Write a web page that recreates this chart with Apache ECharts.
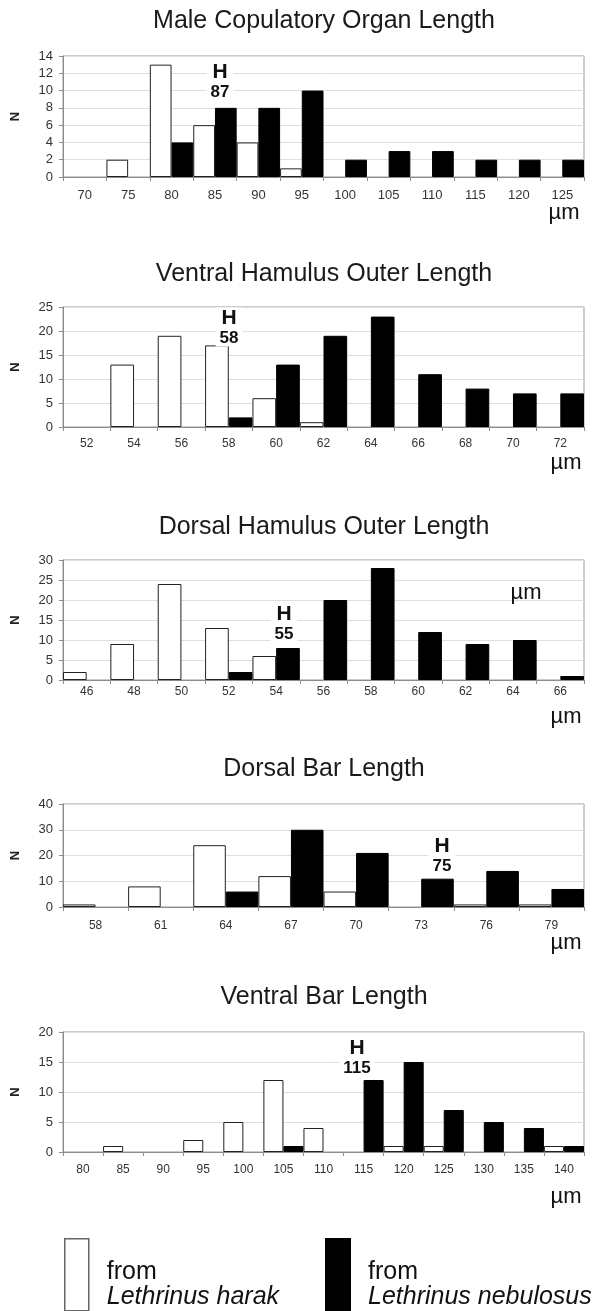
<!DOCTYPE html>
<html>
<head>
<meta charset="utf-8">
<script src="https://cdn.jsdelivr.net/npm/echarts@6/dist/echarts.min.js"></script>
<style>
html,body{margin:0;padding:0;background:#fff;}
#chart{width:596px;height:1311px;}
</style>
</head>
<body>
<div id="chart"></div>
<script>
var FONT = 'Liberation Sans, Arial, Helvetica, sans-serif';

// Male Copulatory Organ Length
var mcoCats = ['70','75','80','85','90','95','100','105','110','115','120','125'];
var mcoHarak = [0,2,13,6,4,1,0,0,0,0,0,0];
var mcoNebulosus = [0,0,4,8,8,10,2,3,3,2,2,2];

// Ventral Hamulus Outer Length
var vhoCats = ['52','54','56','58','60','62','64','66','68','70','72'];
var vhoHarak = [0,13,19,17,6,1,0,0,0,0,0];
var vhoNebulosus = [0,0,0,2,13,19,23,11,8,7,7];

// Dorsal Hamulus Outer Length
var dhoCats = ['46','48','50','52','54','56','58','60','62','64','66'];
var dhoHarak = [2,9,24,13,6,0,0,0,0,0,0];
var dhoNebulosus = [0,0,0,2,8,20,28,12,9,10,1];

// Dorsal Bar Length
var dblCats = ['58','61','64','67','70','73','76','79'];
var dblHarak = [1,8,24,12,6,0,1,1];
var dblNebulosus = [0,0,6,30,21,11,14,7];

// Ventral Bar Length
var vblCats = ['80','85','90','95','100','105','110','115','120','125','130','135','140'];
var vblHarak = [0,1,0,2,5,12,4,0,1,1,0,0,1];
var vblNebulosus = [0,0,0,0,0,1,0,12,15,7,5,4,1];

// host value written at the "H" mark of each panel
var hostValues = ['87','58','55','75','115'];

var titles = ['Male Copulatory Organ Length','Ventral Hamulus Outer Length',
              'Dorsal Hamulus Outer Length','Dorsal Bar Length','Ventral Bar Length'];

// layout of every panel (pixels)
var panels = [
  {cats:mcoCats, harak:mcoHarak, neb:mcoNebulosus, max:14, step:2, top:56, height:121, titleY:22, lm:12, ls:13, hx:220, hy:72, ux:564, uy:213},
  {cats:vhoCats, harak:vhoHarak, neb:vhoNebulosus, max:25, step:5, top:307, height:120, titleY:275, lm:11, ls:12, hx:229, hy:318, ux:566, uy:463},
  {cats:dhoCats, harak:dhoHarak, neb:dhoNebulosus, max:30, step:5, top:560, height:120, titleY:528, lm:6, ls:12, hx:284, hy:614, ux:566, uy:717},
  {cats:dblCats, harak:dblHarak, neb:dblNebulosus, max:40, step:10, top:804, height:103, titleY:770, lm:13, ls:12, hx:442, hy:846, ux:566, uy:943},
  {cats:vblCats, harak:vblHarak, neb:vblNebulosus, max:20, step:5, top:1032, height:120, titleY:998, lm:12, ls:12, hx:357, hy:1048, ux:566, uy:1197}
];

var myChart = echarts.init(document.getElementById('chart'));

function noZero(arr){
  var out = [];
  for(var i=0;i<arr.length;i++){
    out.push(arr[i] === 0 ? null : arr[i]);
  }
  return out;
}

var grids = [], xAxes = [], yAxes = [], series = [], titleList = [], graphics = [];

for(var i=0;i<panels.length;i++){
  var p = panels[i];
  titleList.push({
    text: titles[i], left: 324, top: p.titleY - 13, textAlign: 'center', padding: 0,
    textStyle: {fontFamily: FONT, fontSize: 25, fontWeight: 'normal', color: '#1a1a1a'}
  });
  grids.push({left: 63, width: 521, top: p.top, height: p.height, show: true,
              borderColor: '#999', borderWidth: 1, backgroundColor: 'transparent'});
  xAxes.push({
    type: 'category', gridIndex: i, data: p.cats, boundaryGap: true,
    axisLine: {lineStyle: {color: '#8c8c8c', width: 1}},
    axisTick: {show: true, length: 4, lineStyle: {color: '#8c8c8c'}},
    axisLabel: {interval: 0, margin: p.lm, fontFamily: FONT, fontSize: p.ls, color: '#333'}
  });
  yAxes.push({
    type: 'value', gridIndex: i, min: 0, max: p.max, interval: p.step,
    name: 'N', nameLocation: 'middle', nameGap: 41, nameRotate: 90,
    nameTextStyle: {fontFamily: FONT, fontSize: 13, fontWeight: 'bold', color: '#222'},
    axisLine: {show: true, lineStyle: {color: '#8c8c8c', width: 1}},
    axisTick: {show: true, length: 4, lineStyle: {color: '#8c8c8c'}},
    axisLabel: {margin: 10, fontFamily: FONT, fontSize: 13, color: '#333'},
    splitLine: {lineStyle: {color: '#dedede', width: 1}}
  });
  series.push({
    name: 'Lethrinus harak', type: 'bar', xAxisIndex: i, yAxisIndex: i,
    data: noZero(p.harak), barGap: '0%', barCategoryGap: '0%',
    itemStyle: {color: '#fff', borderColor: '#222', borderWidth: 1}
  });
  series.push({
    name: 'Lethrinus nebulosus', type: 'bar', xAxisIndex: i, yAxisIndex: i,
    data: noZero(p.neb), barGap: '0%', barCategoryGap: '0%',
    itemStyle: {color: '#000', borderColor: '#000', borderWidth: 1}
  });
  graphics.push({
    type: 'text', x: p.hx, y: p.hy, z: 100,
    style: {text: 'H', fontFamily: FONT, fontSize: 21, fontWeight: 'bold', fill: '#111',
            align: 'center', verticalAlign: 'middle', backgroundColor: '#fff', padding: [0, 6]}
  });
  graphics.push({
    type: 'text', x: p.hx, y: p.hy + 20, z: 100,
    style: {text: hostValues[i], fontFamily: FONT, fontSize: 17, fontWeight: 'bold', fill: '#111',
            align: 'center', verticalAlign: 'middle', backgroundColor: '#fff', padding: [0, 4]}
  });
  graphics.push({
    type: 'text', x: p.ux, y: p.uy, z: 100,
    style: {text: 'µm', fontFamily: FONT, fontSize: 22, fill: '#111',
            align: 'center', verticalAlign: 'middle'}
  });
}
// second unit mark drawn inside the dorsal hamulus panel
graphics.push({
  type: 'text', x: 526, y: 593, z: 100,
  style: {text: 'µm', fontFamily: FONT, fontSize: 22, fill: '#111', align: 'center', verticalAlign: 'middle'}
});

var legendText = {
  fontFamily: FONT, fontSize: 25, color: '#111', padding: [19, 0, 0, 13],
  rich: {
    a: {fontFamily: FONT, fontSize: 25, lineHeight: 25, color: '#111'},
    b: {fontFamily: FONT, fontSize: 25, lineHeight: 25, fontStyle: 'italic', color: '#111'}
  }
};
function legendFormatter(name){
  return '{a|from}\n{b|' + name + '}';
}

var option = {
  animation: false,
  backgroundColor: '#fff',
  title: titleList,
  grid: grids,
  xAxis: xAxes,
  yAxis: yAxes,
  legend: [
    {data: ['Lethrinus harak'], left: 64, top: 1238, padding: 0, icon: 'rect',
     itemWidth: 24, itemHeight: 72, selectedMode: false, formatter: legendFormatter,
     textStyle: legendText, itemStyle: {borderColor: '#666', borderWidth: 1.5}},
    {data: ['Lethrinus nebulosus'], left: 325, top: 1238, padding: 0, icon: 'rect',
     itemWidth: 24, itemHeight: 72, selectedMode: false, formatter: legendFormatter,
     textStyle: legendText}
  ],
  graphic: graphics,
  series: series
};

myChart.setOption(option);
</script>
</body>
</html>
